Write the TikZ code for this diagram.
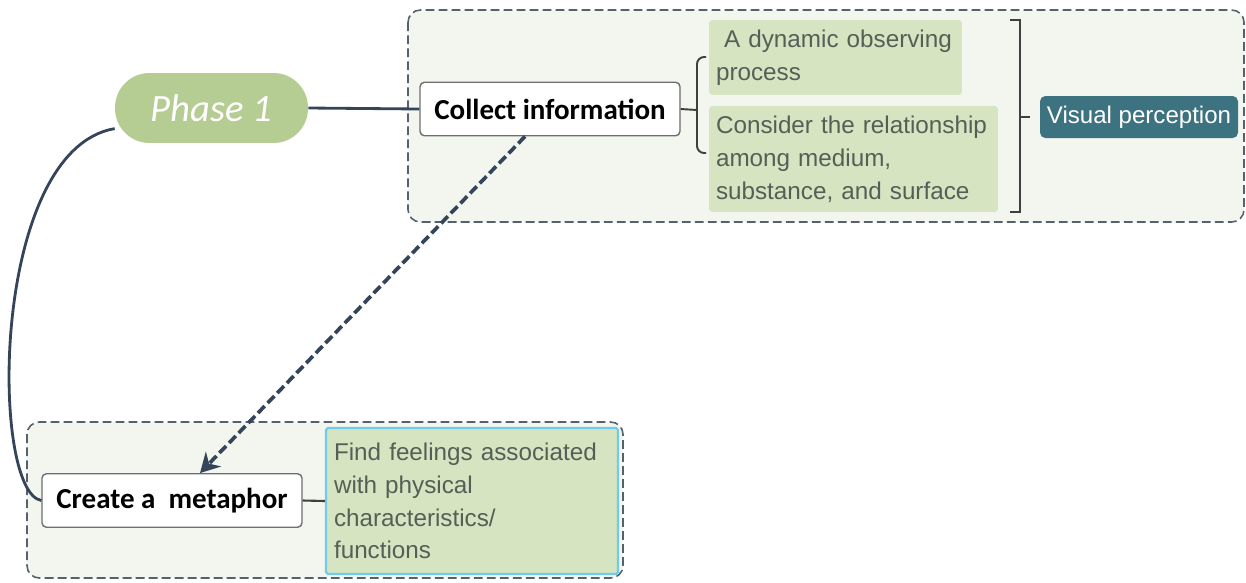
\documentclass[tikz,border=0pt]{standalone}
\usepackage{fontspec}
\setmainfont{Liberation Sans}
\newfontfamily\carlito{Carlito}
\usetikzlibrary{arrows.meta,positioning}

\definecolor{linknavy}{HTML}{34445A}
\definecolor{framegray}{HTML}{6E6E6E}
\definecolor{dashgray}{HTML}{56616E}
\definecolor{groupfill}{HTML}{F3F6EE}
\definecolor{sage}{HTML}{B5CD93}
\definecolor{leafgreen}{HTML}{D6E4C2}
\definecolor{leaftext}{HTML}{565F56}
\definecolor{skyline}{HTML}{6FCBEB}
\definecolor{tealbox}{HTML}{3D7380}
\definecolor{bracketgray}{HTML}{3F3F3F}

\tikzset{
  groupbox/.style={draw=dashgray, fill=groupfill, line width=0.9pt,
    dash pattern=on 5pt off 2.4pt, rounded corners=7pt},
  phasebox/.style={fill=sage, rounded corners=0.69cm, minimum width=3.86cm,
    minimum height=1.4cm, text=white, font=\carlito\itshape\fontsize{22}{26}\selectfont},
  topic/.style={draw=framegray, fill=white, line width=0.8pt, rounded corners=2.5pt,
    minimum width=5.2cm, minimum height=1.07cm,
    font=\carlito\bfseries\fontsize{16.5}{20}\selectfont},
  leaf/.style={fill=leafgreen, rounded corners=2pt, align=left, text=leaftext,
    inner xsep=0.14cm, font=\fontsize{13.8}{18.7}\selectfont},
  tag/.style={fill=tealbox, rounded corners=3pt, text=white, minimum width=3.96cm,
    minimum height=0.84cm, font=\fontsize{13.7}{16}\selectfont},
  link/.style={draw=linknavy, line width=1.6pt},
  brace/.style={draw=bracketgray, line width=1.1pt},
  dashlink/.style={draw=linknavy, line width=2.1pt, dash pattern=on 5.5pt off 2.4pt,
    -{Stealth[length=11pt,width=12pt]}}
}

\begin{document}
\begin{tikzpicture}[x=0.02cm,y=-0.02cm]
  \useasboundingbox (0,0) rectangle (1246,582);
  \draw[groupbox] (408,10) rectangle (1244,222);
  \draw[groupbox] (27,422) rectangle (623,578);

  \node[phasebox] (phase) at (211.5,108) {Phase 1};
  \node[topic] (collect) at (550,109) {Collect information};
  \node[leaf, text width=4.78cm, minimum height=1.5cm] (dynamic) at (835.5,57.5)
    {\ A dynamic observing\\process};
  \node[leaf, text width=5.5cm, minimum height=2.12cm] (consider) at (853.5,159)
    {Consider the relationship\\among medium,\\substance, and surface};
  \node[tag] (visual) at (1139,117) {Visual perception};

  \node[topic] (metaphor) at (172,500.5) {Create a\ \ metaphor};
  \node[leaf, draw=skyline, line width=1.2pt, rounded corners=1pt, inner xsep=0.16cm,
    text width=5.52cm, minimum height=2.92cm] (feelings) at (472,501)
    {Find feelings associated\\with physical\\characteristics/\\functions};

  \draw[link] (phase.east) -- (collect.west);
  \draw[link] (phase.192) .. controls (-10,150) and (-10,492) .. (metaphor.west);
  \draw[link, draw=bracketgray, line width=1.2pt] (metaphor.east) -- (feelings.west);

  \coordinate (lbrace) at (697,110);
  \draw[brace] (collect.east) -- (lbrace);
  \draw[brace, rounded corners=4pt] (706,57) -- (697,57) -- (697,153) -- (706,153);
  \coordinate (rbrace) at (1020,117);
  \draw[brace] (1010,20) -- (1020,20) -- (1020,212) -- (1010,212);
  \draw[brace] (rbrace) -- ++(10,0);

  \draw[dashlink] ([xshift=-0.5cm]collect.south) -- ([xshift=0.56cm]metaphor.north);
\end{tikzpicture}
\end{document}
